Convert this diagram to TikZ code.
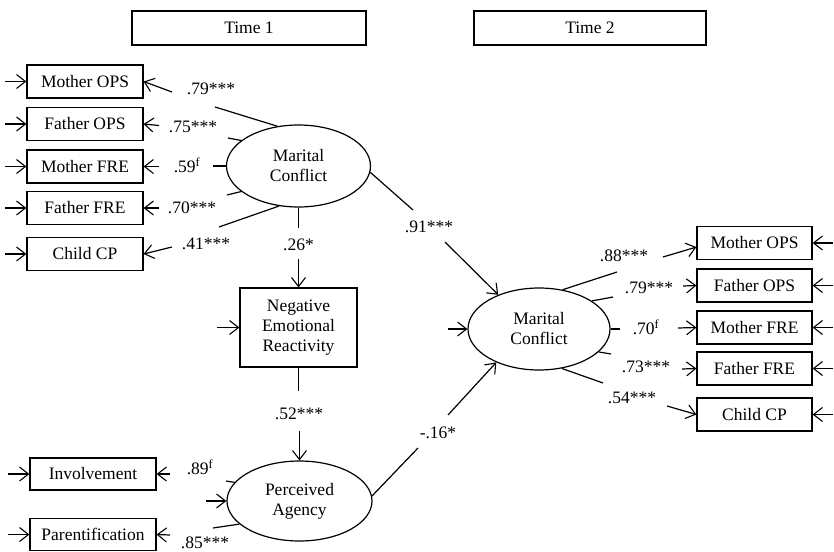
\documentclass[tikz,border=0pt]{standalone}
\usepackage{fontspec}
\setmainfont{Liberation Serif}
\usetikzlibrary{shapes.geometric,arrows.meta}
\begin{document}
\begin{tikzpicture}[x=1pt,y=-1pt,
  every node/.style={font=\fontsize{17.5}{20}\selectfont},
  lw/.style={line width=1.2pt},
  box/.style={draw,lw,rectangle,minimum width=116pt,minimum height=33pt,inner sep=0pt},
  latent/.style={draw,lw,ellipse,minimum width=144pt,minimum height=82pt,inner sep=0pt,align=center},
  arr/.style={lw,-{Straight Barb[length=9pt,width=14pt,line width=1.1pt]}},
  coef/.style={inner sep=0pt}
]
\useasboundingbox (0,0) rectangle (834,551);

% headers
\node[box,minimum width=234pt,minimum height=34pt] (t1) at (249,28) {Time 1};
\node[box,minimum width=232pt,minimum height=34pt] (t2) at (590,28) {Time 2};

% Time 1 indicators
\node[box] (mops1) at (85,81.5) {Mother OPS};
\node[box] (fops1) at (85,124) {Father OPS};
\node[box] (mfre1) at (85,166.5) {Mother FRE};
\node[box] (ffre1) at (85,208) {Father FRE};
\node[box] (ccp1) at (85,254) {Child CP};

\node[latent] (mc1) at (298.5,166) {Marital\\Conflict};
\node[box,minimum width=117pt,minimum height=79pt,align=center] (ner) at (298.5,327.5) {Negative\\Emotional\\Reactivity};
\node[latent,minimum width=145pt,minimum height=80pt] (pa) at (299.5,501) {Perceived\\Agency};

\node[box,minimum width=126pt,minimum height=32pt] (inv) at (93,474) {Involvement};
\node[box,minimum width=126pt,minimum height=32pt] (par) at (93,534.5) {Parentification};

% Time 2
\node[latent,minimum width=142pt,minimum height=82pt] (mc2) at (539,329) {Marital\\Conflict};
\node[box,minimum width=115pt] (mops2) at (754.5,243) {Mother OPS};
\node[box,minimum width=115pt] (fops2) at (754.5,285.5) {Father OPS};
\node[box,minimum width=115pt] (mfre2) at (754.5,327.5) {Mother FRE};
\node[box,minimum width=115pt] (ffre2) at (754.5,368.5) {Father FRE};
\node[box,minimum width=115pt] (ccp2) at (754.5,414.5) {Child CP};

% residual arrows (free ends)
\foreach \b in {mops1,fops1,mfre1,ffre1,ccp1,inv,par}{
  \coordinate (r-\b) at ([xshift=-21pt]\b.west);
  \draw[arr] (r-\b) -- (\b.west);
}
\foreach \b in {mops2,fops2,mfre2,ffre2,ccp2}{
  \coordinate (r-\b) at ([xshift=20pt]\b.east);
  \draw[arr] (r-\b) -- (\b.east);
}
\coordinate (r-ner) at (217,327.5);
\draw[arr] (r-ner) -- (ner.west);
\coordinate (r-pa) at (206,501);
\draw[arr] (r-pa) -- (pa.west);
\coordinate (r-mc2) at (448,329);
\draw[arr] (r-mc2) -- (mc2.west);

% Time 1 loadings
\coordinate (a1) at (215,107); \coordinate (b1) at (172,92);
\draw[lw] (mc1.118) -- (a1); \draw[arr] (b1) -- (mops1.east);
\node[coef] (l1) at (211,89) {.79***};

\coordinate (a2) at (228,138); \coordinate (b2) at (159,125.5);
\draw[lw] (mc1.156) -- (a2); \draw[arr] (b2) -- (fops1.east);
\node[coef] (l2) at (193,127) {.75***};

\coordinate (a3) at (213,166); \coordinate (b3) at (159,166.5);
\draw[lw] (mc1.west) -- (a3); \draw[arr] (b3) -- (mfre1.east);
\node[coef] (l3) at (187,165) {.59\textsuperscript{f}};

\coordinate (a4) at (227,195); \coordinate (b4) at (159,208);
\draw[lw] (mc1.204.6) -- (a4); \draw[arr] (b4) -- (ffre1.east);
\node[coef] (l4) at (192,208) {.70***};

\coordinate (a5) at (219,227); \coordinate (b5) at (172,247);
\draw[lw] (mc1.244) -- (a5); \draw[arr] (b5) -- (ccp1.east);
\node[coef] (l5) at (206,244) {.41***};

% structural paths
\coordinate (a6) at ([yshift=-20pt]mc1.south); \coordinate (b6) at ([yshift=28pt]ner.north);
\draw[lw] (mc1.south) -- (a6); \draw[arr] (b6) -- (ner.north);
\node[coef] (l6) at (298.5,245) {.26*};

\coordinate (a7) at ([yshift=-23pt]ner.south); \coordinate (b7) at ([yshift=29pt]pa.north);
\draw[lw] (ner.south) -- (a7); \draw[arr] (b7) -- (pa.north);
\node[coef] (l7) at (299,414) {.52***};

\coordinate (a8) at (413,210); \coordinate (b8) at (445,242);
\draw[lw] (mc1.355) -- (a8); \draw[arr] (b8) -- (mc2.140);
\node[coef] (l8) at (429,227) {.91***};

\coordinate (a9) at (418,448); \coordinate (b9) at (448,415);
\draw[lw] (pa.4) -- (a9); \draw[arr] (b9) -- (mc2.218);
\node[coef] (l9) at (438,433) {-.16*};

% Perceived agency loadings
\coordinate (a10) at (226,481); \coordinate (b10) at (170,474);
\draw[lw] (pa.164) -- (a10); \draw[arr] (b10) -- (inv.east);
\node[coef] (l10) at (200,467) {.89\textsuperscript{f}};

\coordinate (a11) at (213,528); \coordinate (b11) at (170,535);
\draw[lw] (pa.201.5) -- (a11); \draw[arr] (b11) -- (par.east);
\node[coef] (l11) at (205,543) {.85***};

% Time 2 loadings
\coordinate (a12) at (617,272); \coordinate (b12) at (663,257);
\draw[lw] (mc2.59.5) -- (a12); \draw[arr] (b12) -- (mops2.184);
\node[coef] (l12) at (624,256) {.88***};

\coordinate (a13) at (613,297); \coordinate (b13) at (683,286);
\draw[lw] (mc2.28) -- (a13); \draw[arr] (b13) -- (fops2.west);
\node[coef] (l13) at (649,288) {.79***};

\coordinate (a14) at (620,329); \coordinate (b14) at (678,328);
\draw[lw] (mc2.east) -- (a14); \draw[arr] (b14) -- (mfre2.west);
\node[coef] (l14) at (646,327) {.70\textsuperscript{f}};

\coordinate (a15) at (611,354); \coordinate (b15) at (682,369);
\draw[lw] (mc2.339) -- (a15); \draw[arr] (b15) -- (ffre2.west);
\node[coef] (l15) at (646,367) {.73***};

\coordinate (a16) at (603,383); \coordinate (b16) at (667,406);
\draw[lw] (mc2.300.5) -- (a16); \draw[arr] (b16) -- (ccp2.west);
\node[coef] (l16) at (632,398) {.54***};
\end{tikzpicture}
\end{document}
